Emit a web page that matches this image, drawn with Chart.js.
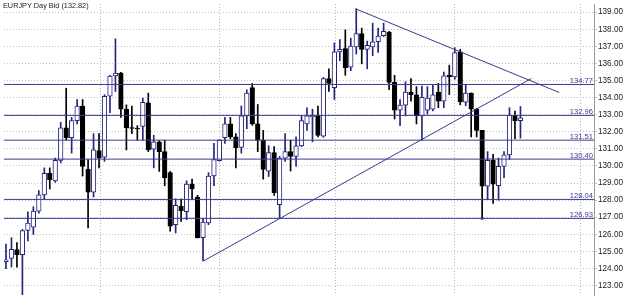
<!DOCTYPE html>
<html><head><meta charset="utf-8">
<style>html,body{margin:0;padding:0;background:#fff;overflow:hidden}#wrap{width:625px;height:299px}</style>
<script src="https://cdn.jsdelivr.net/npm/chart.js@4/dist/chart.umd.min.js"></script>
</head><body><div id="wrap"><canvas id="c" width="625" height="299"></canvas></div>
<script>
const title = 'EURJPY Day Bid (132.82)';
const opens = [
124.40,124.59,125.10,124.81,126.22,126.41,127.36,128.31,129.57,129.13,
130.33,132.23,131.66,132.65,133.51,129.80,128.47,130.90,130.52,134.08,
135.27,135.44,133.32,132.25,132.22,132.32,133.69,130.98,131.41,130.84,
129.61,126.56,127.64,127.32,128.94,128.18,125.80,126.66,129.41,130.31,
131.66,132.46,131.70,131.09,132.93,134.59,132.46,131.51,129.70,130.78,
127.74,130.46,130.84,130.56,131.18,132.46,132.88,132.93,131.74,135.12,
134.59,136.68,136.87,135.79,136.97,137.75,136.83,136.97,137.27,137.63,
137.84,134.89,133.26,133.56,134.32,134.17,132.93,133.26,133.32,134.32,
133.79,135.32,135.22,136.68,133.73,134.26,133.32,132.08,128.81,130.33,
128.84,129.98,130.65,132.96,132.65];
const highs = [
125.42,125.80,125.52,126.28,127.32,127.61,128.56,129.89,129.89,130.46,
132.55,134.55,132.84,133.89,133.89,130.37,131.89,131.89,134.17,135.31,
137.44,135.48,133.58,133.51,132.36,133.98,134.26,131.79,131.48,131.51,
129.68,128.08,128.08,129.13,129.23,128.28,126.94,129.61,131.32,131.53,
132.84,132.84,131.89,133.51,134.46,134.83,133.60,132.08,131.18,131.13,
130.56,131.89,131.51,131.70,132.93,133.41,133.32,133.51,135.18,135.69,
137.21,137.40,137.97,137.48,139.20,138.07,137.31,138.36,138.07,138.36,
137.88,135.31,133.89,134.93,135.12,134.65,134.68,134.65,134.74,134.83,
135.50,135.90,136.93,136.83,134.78,134.28,133.38,132.08,130.84,130.68,
130.46,130.84,133.41,133.22,133.48];
const lows = [
123.99,124.08,124.08,122.45,125.61,125.99,127.23,128.08,128.65,129.04,
130.18,131.51,130.75,132.46,129.41,126.37,128.18,129.89,130.27,133.12,
134.36,132.84,130.94,131.89,131.51,131.51,130.84,129.89,129.68,128.84,
126.18,126.08,126.75,126.85,128.08,125.78,124.44,126.56,128.84,130.28,
131.32,131.60,129.89,130.75,132.18,132.38,130.84,129.23,129.38,128.27,
126.93,130.27,129.70,129.98,131.13,132.08,131.41,131.70,131.68,134.36,
133.89,136.17,135.31,135.58,136.55,135.98,135.69,136.46,136.64,137.58,
134.46,132.75,132.36,132.93,133.79,132.46,131.51,133.03,133.22,133.41,
133.41,134.18,135.08,133.58,133.53,131.70,131.70,126.93,128.04,127.80,
127.99,129.32,130.38,131.60,131.63];
const closes = [
124.51,125.12,124.81,126.22,126.66,127.36,128.31,129.57,129.19,130.33,
132.23,131.66,132.65,133.51,129.98,128.47,130.94,130.46,134.08,135.26,
135.44,133.32,132.23,132.20,132.17,133.73,130.94,131.41,130.84,129.32,
126.47,127.70,127.38,128.94,128.66,125.80,126.71,129.41,130.37,131.51,
132.46,131.70,131.07,132.93,134.26,132.46,131.51,129.80,130.78,128.43,
130.46,130.84,130.56,131.18,132.65,132.93,132.98,131.79,135.12,134.83,
136.68,136.83,135.75,137.02,137.75,136.83,137.06,137.27,137.60,137.88,
134.89,133.26,133.56,134.32,134.17,132.93,134.02,133.98,134.17,133.79,
135.27,135.22,136.64,133.75,134.26,133.32,132.08,128.81,130.33,128.94,
129.98,130.65,132.96,132.65,132.82];
const levels = [134.77, 132.96, 131.51, 130.40, 128.04, 126.93];
const yTicks = [123,124,125,126,127,128,129,130,131,132,133,134,135,136,137,138,139];
const gridX = [17.19, 38.97, 60.13, 81.9, 104.9];
const trendDown = [{x:63.88, y:139.20}, {x:101.09, y:134.30}];
const trendUp = [{x:36.1, y:124.44}, {x:96.0, y:135.12}];
const marker = [{x:87, y:126.93}];
const xRange = [-0.363, 107.44];
const yRange = [122.445, 139.482];

const NAVY = '#25257c';
const LINE = '#3a3a92';
const idx = opens.map((_, i) => i);
const up = idx.map(i => closes[i] >= opens[i]);

const datasets = [];
levels.forEach(l => datasets.push({type:'line', data:[{x:xRange[0], y:l},{x:xRange[1], y:l}], borderColor:LINE, borderWidth:1, pointRadius:0, order:0}));
datasets.push({type:'line', data:trendDown, borderColor:LINE, borderWidth:1, pointRadius:0, order:0});
datasets.push({type:'line', data:trendUp, borderColor:LINE, borderWidth:1, pointRadius:0, order:0});
datasets.push({type:'line', data:marker, showLine:false, pointStyle:'rect', pointRadius:1.8, backgroundColor:NAVY, borderColor:NAVY, borderWidth:0, order:0});
datasets.push({type:'bar', data: idx.map(i => ({x:i, y:[lows[i], highs[i]]})), backgroundColor: idx.map(i => up[i] ? NAVY : '#000'), barThickness:1, grouped:false, order:3});
datasets.push({type:'bar', data: idx.map(i => ({x:i, y:[Math.min(opens[i], closes[i]), Math.max(opens[i], closes[i])]})),
  backgroundColor: idx.map(i => up[i] ? '#fff' : '#000'), borderColor: idx.map(i => up[i] ? NAVY : '#000'),
  borderWidth:1, borderSkipped:false, barThickness:4.6, grouped:false, order:2});

const textPlugin = {
  id:'texts',
  afterDraw(chart){
    const {ctx, chartArea, scales:{y}} = chart;
    ctx.save();
    ctx.font = '7.3px "Liberation Sans", Arial, sans-serif';
    ctx.fillStyle = '#222';
    ctx.textAlign = 'left'; ctx.textBaseline = 'middle';
    ctx.fillText(title, 3, 6);
    ctx.font = '7.6px "Liberation Sans", Arial, sans-serif';
    ctx.fillStyle = LINE; ctx.textAlign = 'right'; ctx.textBaseline = 'alphabetic';
    levels.forEach(l => ctx.fillText(l.toFixed(2), chartArea.right - 1, y.getPixelForValue(l) - 1));
    ctx.restore();
  }
};

new Chart(document.getElementById('c'), {
  type:'bar',
  data:{datasets},
  options:{
    responsive:false, animation:false, devicePixelRatio:1,
    layout:{padding:0},
    plugins:{legend:{display:false}, tooltip:{enabled:false}, title:{display:false}},
    scales:{
      x:{type:'linear', min:xRange[0], max:xRange[1], offset:false,
        afterBuildTicks: s => { s.ticks = gridX.map(v => ({value:v})); },
        afterFit: s => { s.height = 0; s.paddingLeft = 0; s.paddingRight = 0; },
        ticks:{display:false}, grid:{offset:false, color:'#b4b4b4', drawTicks:false}, border:{display:false, dash:[1,2]}},
      y:{position:'right', min:yRange[0], max:yRange[1],
        afterBuildTicks: s => { s.ticks = yTicks.map(v => ({value:v})); },
        afterFit: s => { s.width = 31; s.paddingTop = 0; s.paddingBottom = 0; },
        ticks:{font:{family:'Liberation Sans', size:8.2}, color:'#222', padding:1, autoSkip:false, callback: v => Number(v).toFixed(2)},
        grid:{color:'#c4c4c4', tickLength:3}, border:{display:true, color:'#9a9a9a', dash:[1,2]}}
    }
  },
  plugins:[textPlugin]
});
</script></body></html>
